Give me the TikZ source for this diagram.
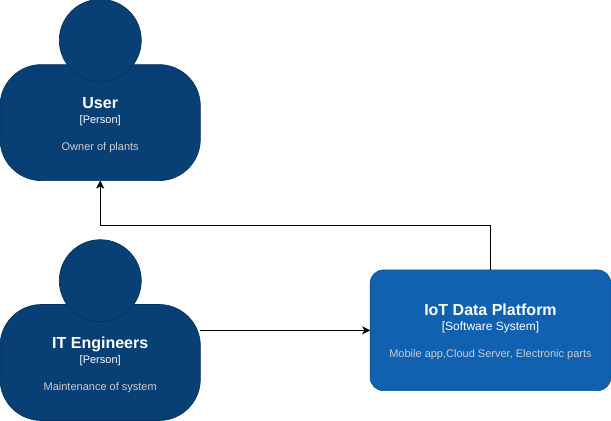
\documentclass[tikz,border=0pt]{standalone}
\usepackage{fontspec}
\setmainfont{Liberation Sans}
\usetikzlibrary{arrows.meta}
\definecolor{personblue}{RGB}{8,63,117}
\definecolor{personline}{RGB}{6,49,92}
\definecolor{systemblue}{RGB}{16,97,176}
\definecolor{systemline}{RGB}{13,80,145}
\definecolor{notegray}{RGB}{204,204,204}

\begin{document}
\begin{tikzpicture}[x=0.75pt, y=-0.75pt,
    body/.style={rectangle, draw=personline, fill=personblue, line width=0.5pt, outer sep=0pt,
      rounded corners=31pt, minimum width=150.2pt, minimum height=87pt,
      text=white, align=center, inner sep=0pt},
    head/.style={circle, draw=personline, fill=personblue, line width=0.5pt, outer sep=0pt,
      minimum size=61.5pt, inner sep=0pt},
    systembox/.style={body, draw=systemline, fill=systemblue, rounded corners=10pt,
      minimum width=180.5pt, minimum height=90.5pt},
    rel/.style={line width=0.75pt, -{Stealth[length=6pt, width=6pt, inset=1.6pt]}}]
  \useasboundingbox (0,0) rectangle (611,421);
  % Text of a box: #1 = size of the kind, #2 = name, #3 = kind, #4 = note.
  \newcommand{\boxtext}[4][8.25]{%
    {\rule{0pt}{11.5pt}\fontsize{12}{14}\selectfont\bfseries #2}\\[-0.75pt]
    {\fontsize{#1}{10}\selectfont [#3]}\\[8.25pt]
    {\fontsize{8.25}{10}\selectfont\color{notegray} #4}}

  \node[body] (user) at (100.2,122.6) {\boxtext{User}{Person}{Owner of plants}};
  \node[head] (userhead) at (100.3,40.3) {};

  \node[body] (engineers) at (100.2,362.5) {\boxtext{IT Engineers}{Person}{Maintenance of system}};
  \node[head] (engineershead) at (100.3,280.7) {};

  \node[systembox] (platform) at (490.5,330.3)
    {\boxtext[9]{IoT Data Platform}{Software System}{Mobile app,Cloud Server, Electronic parts}};

  \draw[rel] (engineers.east |- platform.west) -- (platform.west);
  \draw[rel] (platform.north) -- ++(0,-44.5) -| (user.south);
\end{tikzpicture}
\end{document}
